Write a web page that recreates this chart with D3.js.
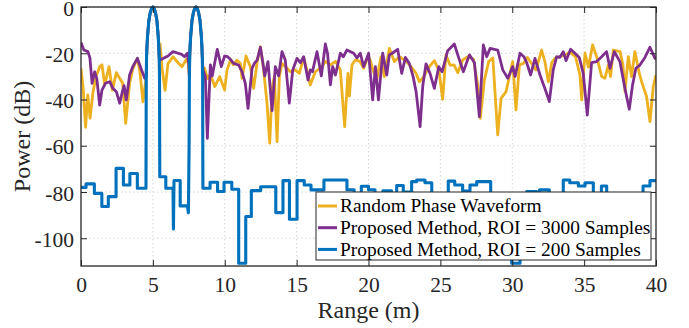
<!DOCTYPE html>
<html>
<head>
<meta charset="utf-8">
<script src="https://cdn.jsdelivr.net/npm/d3@7"></script>
<style>
  body { margin: 0; background: #fff; }
</style>
</head>
<body>
<div id="chart"></div>
<script>
// axis ticks
const xTicks = [0, 5, 10, 15, 20, 25, 30, 35, 40];
const yTicks = [-100, -80, -60, -40, -20, 0];

const seriesNames = [
  'Random Phase Waveform',
  'Proposed Method, ROI = 3000 Samples',
  'Proposed Method, ROI = 200 Samples'
];
const seriesColors = ['#EDB120', '#7E2F8E', '#0072BD'];

// [range (m), power (dB)]
const randomPhase = [
  [0, -26.5], [0.14, -34.4], [0.32, -52], [0.47, -38], [0.63, -48.1], [0.84, -36.6], [1.05, -30],
  [1.3, -25.8], [1.46, -25], [1.65, -33.7], [1.95, -25.8], [2.18, -35.9], [2.46, -28.4], [2.69, -30.8],
  [2.9, -33], [3.11, -50.3], [3.38, -33], [3.6, -27], [3.92, -22.2], [4.1, -28], [4.31, -41],
  [4.54, -30], [4.56, -22], [4.59, -17], [4.63, -12.6], [4.72, -5.9], [4.82, -2.4], [4.91, -0.6], [5, 0],
  [5.09, -0.6], [5.18, -2.4], [5.28, -5.9], [5.37, -12.6], [5.41, -17], [5.44, -22],
  [5.5, -16], [5.65, -27], [5.85, -36], [6.05, -24.5], [6.4, -21.5], [6.75, -24.1], [7.03, -25.8],
  [7.33, -22.6], [7.45, -24],
  [7.54, -30], [7.56, -22], [7.59, -17], [7.63, -12.6], [7.72, -5.9], [7.82, -2.4], [7.91, -0.6], [8, 0],
  [8.09, -0.6], [8.18, -2.4], [8.28, -5.9], [8.37, -12.6], [8.41, -17], [8.44, -22], [8.46, -30],
  [8.6, -26.5], [8.8, -31], [9.0, -29], [9.3, -34.4], [9.65, -30.1], [9.99, -35.9], [10.16, -27.2],
  [10.4, -23], [10.6, -25], [10.85, -23], [11.09, -24.4], [11.2, -30.8], [11.48, -21.2], [11.78, -25.8],
  [12.01, -35.2], [12.25, -24], [12.48, -17.2], [12.7, -27], [12.94, -41.6], [13.13, -58.9], [13.3, -35],
  [13.45, -30], [13.64, -58.2], [13.8, -30], [13.98, -24.4], [14.33, -26.5], [14.56, -28], [14.91, -27.2],
  [15.19, -28.7], [15.49, -21.8], [15.7, -27], [15.95, -33.7], [16.3, -28], [16.77, -25.8], [17.0, -23.5],
  [17.35, -25.1], [17.7, -23.5], [18.04, -27.2], [18.34, -51.7], [18.57, -28.7], [18.67, -38.5],
  [18.85, -25], [19.09, -22.9], [19.4, -23.5], [19.66, -26.5], [19.97, -21.5], [20.1, -22.6],
  [20.3, -27], [20.57, -31.6], [20.87, -21.5], [21.1, -30.1], [21.45, -17.9], [21.8, -23.6],
  [22.15, -21.5], [22.57, -23.2], [22.96, -25.8], [23.31, -28.7], [23.54, -32.3], [23.8, -30.5],
  [24.24, -25.8], [24.58, -23.2], [24.9, -27.5], [25.16, -39.9], [25.39, -20.7], [25.67, -25.1],
  [25.95, -25], [26.21, -28.4], [26.55, -22.9], [26.9, -21.5], [27.3, -22.5], [27.6, -33.7],
  [27.78, -48.1], [28.06, -31.6], [28.36, -23.6], [28.65, -22], [28.99, -55.3], [29.22, -39.5],
  [29.57, -36.6], [30.03, -23.6], [30.26, -44.5], [30.5, -25], [30.77, -24.4], [31.05, -21.8],
  [31.3, -24], [31.65, -27.2], [32.04, -18.6], [32.27, -23.6], [32.51, -32.3], [32.75, -24],
  [32.97, -22.2], [33.3, -21.5], [33.67, -20.7], [34.0, -19.5], [34.4, -21.5], [34.71, -29.4],
  [34.83, -40.2], [35.06, -20], [35.3, -26], [35.59, -16.4], [35.91, -22.2], [36.22, -30.1],
  [36.45, -30.8], [36.68, -25.1], [36.84, -30.1], [37.03, -18.6], [37.5, -19.3], [37.7, -25],
  [37.84, -36.6], [38.07, -21.5], [38.3, -30.1], [38.53, -19.3], [38.84, -28.7], [39.0, -32.3],
  [39.35, -38.8], [39.58, -49.6], [39.81, -34.4], [40, -29.4]
];

const roi3000 = [
  [0, -15.4], [0.2, -18.6], [0.48, -19.3], [0.62, -22], [0.77, -33], [0.95, -28], [1.1, -31],
  [1.3, -42.4], [1.46, -35.9], [1.7, -33], [2.0, -32.3], [2.2, -35], [2.46, -36.6], [2.69, -41.6],
  [2.88, -36.6], [3.0, -34], [3.15, -40.2], [3.38, -29.4], [3.6, -25.8], [3.92, -22.2], [4.2, -27],
  [4.43, -30.8],
  [4.54, -30], [4.56, -22], [4.59, -17], [4.63, -12.6], [4.72, -5.9], [4.82, -2.4], [4.91, -0.6], [5, 0],
  [5.09, -0.6], [5.18, -2.4], [5.28, -5.9], [5.37, -12.6], [5.41, -17], [5.44, -22],
  [5.5, -22.9], [5.6, -22.6], [6.05, -21.2], [6.4, -19.3], [6.75, -20], [7.0, -20.5], [7.2, -21.5],
  [7.4, -20], [7.5, -25],
  [7.54, -30], [7.56, -22], [7.59, -17], [7.63, -12.6], [7.72, -5.9], [7.82, -2.4], [7.91, -0.6], [8, 0],
  [8.09, -0.6], [8.18, -2.4], [8.28, -5.9], [8.37, -12.6], [8.41, -17], [8.44, -22],
  [8.49, -27.2], [8.65, -30], [8.79, -56.8], [9.0, -25], [9.13, -29.8], [9.48, -18.3], [9.76, -25.8],
  [9.99, -21.2], [10.2, -21.5], [10.39, -22.6], [10.62, -24.4], [10.97, -25.1], [11.2, -28],
  [11.43, -33], [11.62, -43.8], [11.9, -26.5], [12.06, -24.4], [12.25, -23], [12.48, -17.4],
  [12.65, -24], [12.78, -29.8], [13.01, -23.6], [13.29, -44.8], [13.52, -25.8], [13.75, -29.8],
  [13.98, -19.3], [14.21, -22.9], [14.49, -41.6], [14.73, -27.2], [15.03, -22.2], [15.26, -24.1],
  [15.49, -21.5], [15.79, -31.6], [15.95, -27.2], [16.1, -28], [16.42, -19.3], [16.72, -29.8],
  [17.0, -16], [17.15, -20], [17.35, -33.7], [17.51, -25.8], [17.7, -29.4], [18.04, -20],
  [18.25, -21.5], [18.5, -18.6], [18.97, -20], [19.2, -22], [19.43, -20], [19.66, -25.8],
  [20.01, -20], [20.29, -40.2], [20.48, -25.8], [20.69, -40.2], [20.99, -20], [21.27, -29.4],
  [21.45, -20.7], [21.65, -20], [22.03, -18.3], [22.31, -28.7], [22.57, -21.8], [22.84, -24.4],
  [23.1, -30], [23.31, -36.6], [23.59, -51.7], [23.77, -34.4], [24.0, -24.6], [24.28, -28.7],
  [24.58, -35.2], [24.89, -25.8], [25.12, -28], [25.51, -18.9], [25.97, -16], [26.21, -20.7],
  [26.6, -28], [27.02, -20.7], [27.37, -24.1], [27.71, -47.4], [27.99, -16.4], [28.22, -21.5],
  [28.46, -17.9], [28.99, -18.6], [29.34, -27.2], [29.69, -30.8], [30.03, -25.8], [30.2, -30],
  [30.54, -20], [30.81, -21.5], [31.0, -24], [31.28, -29.4], [31.58, -22.2], [31.93, -29.4],
  [32.27, -35.2], [32.58, -40.9], [32.85, -27.2], [33.09, -21.5], [33.3, -21.8], [33.55, -19.3],
  [33.74, -23.2], [34.06, -18.3], [34.36, -20], [34.66, -21.8], [34.94, -28.7], [35.22, -46.7],
  [35.52, -24.1], [35.87, -23.6], [36.22, -21.5], [36.56, -19.3], [36.8, -26.5], [37.1, -19.3],
  [37.49, -23.6], [37.84, -35.2], [38.14, -44.2], [38.37, -33.7], [38.6, -26.5], [38.88, -25.1],
  [39.23, -21.8], [39.58, -17.4], [39.93, -22.2], [40, -22.5]
];

const roi200 = [
  [0, -78], [0.35, -78], [0.35, -76.5], [0.93, -76.5], [0.93, -80.6], [1.45, -80.6], [1.45, -86.3],
  [1.9, -86.3], [1.9, -82], [2.44, -82], [2.44, -69.8], [2.95, -69.8], [2.95, -77], [3.4, -77],
  [3.4, -72], [3.92, -72], [3.92, -78.4], [4.52, -78.4],
  [4.54, -30], [4.56, -22], [4.59, -17], [4.63, -12.6], [4.72, -5.9], [4.82, -2.4], [4.91, -0.6], [5, 0],
  [5.09, -0.6], [5.18, -2.4], [5.28, -5.9], [5.37, -12.6], [5.41, -17], [5.44, -22], [5.46, -30],
  [5.48, -73.4], [5.9, -73.4], [5.9, -78.4], [6.4, -78.4], [6.43, -96], [6.47, -75], [6.9, -75],
  [6.9, -86], [7.4, -86], [7.47, -89], [7.52, -60],
  [7.54, -30], [7.56, -22], [7.59, -17], [7.63, -12.6], [7.72, -5.9], [7.82, -2.4], [7.91, -0.6], [8, 0],
  [8.09, -0.6], [8.18, -2.4], [8.28, -5.9], [8.37, -12.6], [8.41, -17], [8.44, -22], [8.46, -30],
  [8.48, -78.4], [8.98, -78.4], [8.98, -75.8], [9.5, -75.8], [9.5, -79.8], [9.95, -79.8],
  [9.95, -75.8], [10.49, -75.8], [10.49, -78.8], [10.97, -78.8], [10.97, -110.8], [11.46, -110.8],
  [11.46, -90.6], [11.85, -90.6], [11.85, -79.4], [12.5, -79.4], [12.5, -77.7], [13.55, -77.7],
  [13.55, -88.9], [14.05, -88.9], [14.05, -75.1], [14.5, -75.1], [14.5, -91.8], [15.03, -91.8],
  [15.03, -75.1], [15.53, -75.1], [15.53, -77], [16, -77], [16, -79.1], [16.9, -79.1], [16.9, -74.8],
  [18.5, -74.8], [18.5, -79], [19, -79], [19, -82], [19.5, -82], [19.5, -77.5], [20, -77.5],
  [20, -79], [20.45, -79], [20.45, -84], [21, -84], [21, -79.5], [21.6, -79.5], [21.6, -83],
  [21.96, -83], [21.96, -77.2], [22.42, -77.2], [22.42, -80], [23, -80], [23, -75.5], [23.35, -75.5],
  [23.35, -74.8], [23.93, -74.8], [23.93, -76], [24.4, -76], [24.4, -85], [25.55, -85], [25.55, -75.3],
  [26, -75.3], [26, -77], [26.55, -77], [26.55, -79.6], [27.06, -79.6], [27.06, -77], [27.53, -77],
  [27.53, -75.5], [28.5, -75.5], [28.5, -85], [29.96, -85], [29.96, -110.8], [30.54, -110.8],
  [30.54, -85], [31, -85], [31, -79.8], [31.7, -79.8], [31.7, -82], [31.9, -82], [31.9, -79.1],
  [32.58, -79.1], [32.58, -84], [33.55, -84], [33.55, -74.8], [34, -74.8], [34, -76], [34.6, -76],
  [34.6, -77.4], [35.06, -77.4], [35.06, -76], [35.64, -76], [35.64, -84], [36.2, -84], [36.2, -77.4],
  [36.57, -77.4], [36.57, -85], [39.1, -85], [39.1, -77.4], [39.58, -77.4], [39.58, -75.1], [40, -75.1]
];

const width = 689;
const height = 328;
const margin = { top: 7, right: 33, bottom: 62, left: 81 };
const innerW = width - margin.left - margin.right;
const innerH = height - margin.top - margin.bottom;
const font = '"Liberation Serif", "Times New Roman", serif';
const axisColor = '#262626';

const x = d3.scaleLinear().domain([0, 40]).range([0, innerW]);
const y = d3.scaleLinear().domain([-112, 0]).range([innerH, 0]);

const svg = d3.select('#chart')
  .append('svg')
  .attr('width', width)
  .attr('height', height)
  .style('display', 'block');

const g = svg.append('g')
  .attr('transform', 'translate(' + margin.left + ',' + margin.top + ')');

svg.append('clipPath')
  .attr('id', 'plot-clip')
  .append('rect')
  .attr('x', 0).attr('y', -2)
  .attr('width', innerW).attr('height', innerH + 2);

// grid
const grid = g.append('g')
  .attr('stroke', '#d6d6d6')
  .attr('stroke-width', 1)
  .attr('stroke-dasharray', '1.5,2.5');

grid.selectAll('.gx')
  .data(xTicks.slice(1, -1))
  .enter()
  .append('line')
  .attr('x1', d => x(d)).attr('x2', d => x(d))
  .attr('y1', 0).attr('y2', innerH);

grid.selectAll('.gy')
  .data(yTicks)
  .enter()
  .append('line')
  .attr('x1', 0).attr('x2', innerW)
  .attr('y1', d => y(d)).attr('y2', d => y(d));

// lines
const line = d3.line()
  .x(d => x(d[0]))
  .y(d => y(d[1]));

const series = [randomPhase, roi3000, roi200];

g.append('g')
  .attr('clip-path', 'url(#plot-clip)')
  .selectAll('path')
  .data(series)
  .enter()
  .append('path')
  .attr('d', line)
  .attr('fill', 'none')
  .attr('stroke', (d, i) => seriesColors[i])
  .attr('stroke-width', (d, i) => i === 2 ? 3.1 : 2.8)
  .attr('stroke-linejoin', 'round');

// axes, ticks pointing inward
function styleAxis(sel) {
  sel.attr('font-family', font).attr('font-size', 21.5);
  sel.select('.domain').remove();
  sel.selectAll('.tick line').attr('stroke', axisColor).attr('stroke-width', 1);
  sel.selectAll('.tick text').attr('fill', axisColor);
}

g.append('g')
  .attr('transform', 'translate(0,' + innerH + ')')
  .call(d3.axisBottom(x).tickValues(xTicks).tickSize(-6).tickPadding(11))
  .call(styleAxis);

g.append('g')
  .call(d3.axisTop(x).tickValues(xTicks).tickSize(-6).tickFormat(''))
  .call(styleAxis);

g.append('g')
  .call(d3.axisLeft(y).tickValues(yTicks).tickSize(-6).tickPadding(7)
    .tickFormat(d => String(d).replace('\u2212', '-')))
  .call(styleAxis)
  .selectAll('.tick text')
  .attr('dy', '0.38em');

g.append('g')
  .attr('transform', 'translate(' + innerW + ',0)')
  .call(d3.axisRight(y).tickValues(yTicks).tickSize(-6).tickFormat(''))
  .call(styleAxis);

// axes box
g.append('rect')
  .attr('width', innerW)
  .attr('height', innerH)
  .attr('fill', 'none')
  .attr('stroke', axisColor)
  .attr('stroke-width', 1.3);

// axis labels
svg.append('text')
  .attr('x', margin.left + innerW / 2)
  .attr('y', 318)
  .attr('text-anchor', 'middle')
  .attr('font-family', font)
  .attr('font-size', 24)
  .attr('fill', axisColor)
  .text('Range (m)');

svg.append('text')
  .attr('transform', 'translate(30,' + (margin.top + innerH / 2) + ') rotate(-90)')
  .attr('text-anchor', 'middle')
  .attr('font-family', font)
  .attr('font-size', 24)
  .attr('fill', axisColor)
  .text('Power (dB)');

// legend
const legend = svg.append('g')
  .attr('transform', 'translate(316,192)');

legend.append('rect')
  .attr('width', 335)
  .attr('height', 68)
  .attr('fill', '#fff')
  .attr('stroke', axisColor)
  .attr('stroke-width', 1);

const item = legend.selectAll('.item')
  .data(seriesNames)
  .enter()
  .append('g')
  .attr('transform', (d, i) => 'translate(0,' + (14 + i * 21.7) + ')');

item.append('line')
  .attr('x1', 2).attr('x2', 21)
  .attr('stroke', (d, i) => seriesColors[i])
  .attr('stroke-width', 3);

item.append('text')
  .attr('x', 24)
  .attr('dy', '0.33em')
  .attr('font-family', font)
  .attr('font-size', 19.4)
  .attr('fill', '#000')
  .text(d => d);
</script>
</body>
</html>
